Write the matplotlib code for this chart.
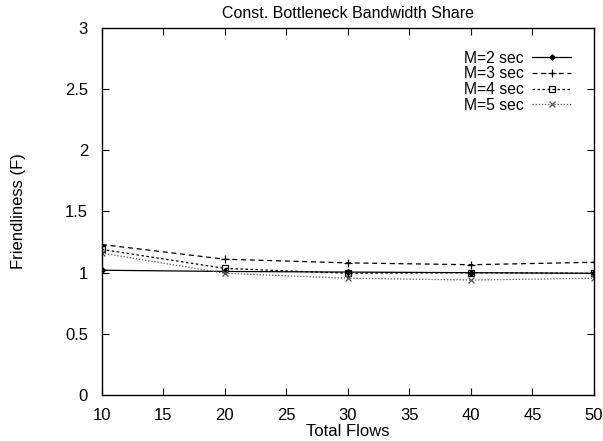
import matplotlib

matplotlib.use("Agg")
import matplotlib.pyplot as plt

plt.rcParams["font.family"] = ["Liberation Sans", "DejaVu Sans"]

# ------------------------------------------------------------------ данные
flows = [10, 20, 30, 40, 50]
m2 = [1.02, 1.01, 1.005, 1.0, 0.995]
m3 = [1.23, 1.11, 1.08, 1.065, 1.085]
m4 = [1.19, 1.035, 0.995, 1.0, 0.995]
m5 = [1.16, 0.995, 0.955, 0.94, 0.955]
labels = ["M=2 sec", "M=3 sec", "M=4 sec", "M=5 sec"]

# ------------------------------------------------------------------ график
fig = plt.figure(figsize=(6.03, 4.41), dpi=100)
ax = fig.add_axes([0.169, 0.104, 0.816, 0.833])

styles = [
    dict(ls="-", marker="D", ms=3, color="black"),
    dict(ls=(0, (4, 3)), marker="+", ms=6, color="black"),
    dict(ls=(0, (2, 2)), marker="s", ms=5, mfc="none", color="black"),
    dict(ls=(0, (1, 1.5)), marker="x", ms=5, color="#555555"),
]
for ys, lab, st in zip([m2, m3, m4, m5], labels, styles):
    ax.plot(flows, ys, label=lab, lw=0.9, mew=0.9, **st)

ax.set_xlim(10, 50)
ax.set_ylim(0, 3)
ax.set_xticks(range(10, 51, 5))
ax.set_yticks([0, 0.5, 1, 1.5, 2, 2.5, 3])
ax.set_yticklabels(["0", "0.5", "1", "1.5", "2", "2.5", "3"])
ax.tick_params(direction="in", top=True, right=True, labelsize=12, length=5)
ax.tick_params(axis="x", pad=9)
ax.tick_params(axis="y", pad=10)
for s in ax.spines.values():
    s.set_linewidth(1.0)

ax.set_title("Const. Bottleneck Bandwidth Share", fontsize=11.5, pad=7)
ax.set_xlabel("Total Flows", fontsize=12, labelpad=1)
ax.set_ylabel("Friendliness (F)", fontsize=12, labelpad=28)

ax.legend(loc="upper right", frameon=False, markerfirst=False, fontsize=11.3,
          handlelength=2.5, handletextpad=0.5, labelspacing=0.05,
          borderaxespad=0.65, borderpad=0.8, markerscale=0.9)

fig.savefig("out.png", dpi=100)
